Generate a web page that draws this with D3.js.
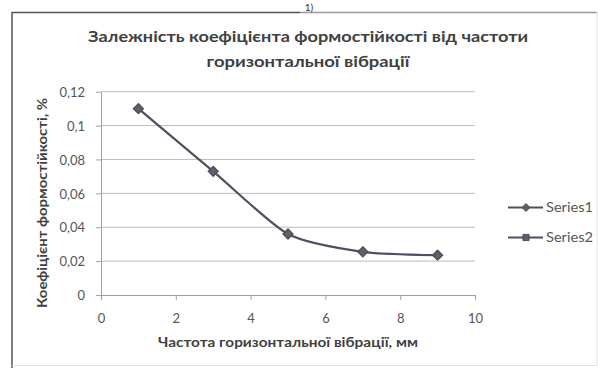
<!DOCTYPE html>
<html>
<head>
<meta charset="utf-8">
<script src="https://cdn.jsdelivr.net/npm/d3@7"></script>
<style>
  html, body { margin: 0; padding: 0; background: #fff; }
  svg { display: block; font-family: Lato, "Open Sans", "DejaVu Sans", sans-serif; }
</style>
</head>
<body>
<svg id="chart" width="598" height="368"></svg>
<script>
// Vibration frequency (x) and shape-stability coefficient (y)
const frequency = [1, 3, 5, 7, 9];
const series1 = [0.11, 0.073, 0.036, 0.0255, 0.0235];
const series2 = [];
const xTicks = [0, 2, 4, 6, 8, 10];
const yTicks = [0, 0.02, 0.04, 0.06, 0.08, 0.1, 0.12];
const titleLines = ["Залежність коефіцієнта формостійкості від частоти", "горизонтальної вібрації"];
const xTitle = "Частота горизонтальної вібрації, мм";
const yTitle = "Коефіцієнт формостійкості, %";
const seriesNames = ["Series1", "Series2"];

const svg = d3.select("#chart");
const plot = { left: 101, right: 475, top: 91.7, bottom: 295 };

const x = d3.scaleLinear().domain([0, 10]).range([plot.left, plot.right]);
const y = d3.scaleLinear().domain([0, 0.12]).range([plot.bottom, plot.top]);
const fmt = d => d === 0 ? "0" : String(d).replace(".", ",");
const textColor = "#404040";

// outer frame
svg.append("path")
  .attr("d", "M12,368 L12,12.5 L300,12.5")
  .attr("fill", "none").attr("stroke", "#555").attr("stroke-width", 1.5);
svg.append("path")
  .attr("d", "M300,12.5 L597,12.5")
  .attr("fill", "none").attr("stroke", "#999").attr("stroke-width", 1.3);
svg.append("path")
  .attr("d", "M12,365.5 L597,365.5 M597,12 L597,366")
  .attr("fill", "none").attr("stroke", "#e2e2e2").attr("stroke-width", 1);
svg.append("text").attr("x", 309).attr("y", 10.5).attr("text-anchor", "middle")
  .attr("font-size", 10).attr("fill", "#333").text("1)");

// title
const titleWidths = [440, 203];
svg.append("g").selectAll("text").data(titleLines).join("text")
  .attr("x", 308).attr("y", (d, i) => 42 + i * 25)
  .attr("text-anchor", "middle").attr("font-size", 16).attr("font-weight", 700)
  .attr("textLength", (d, i) => titleWidths[i]).attr("lengthAdjust", "spacingAndGlyphs")
  .attr("fill", textColor).text(d => d);

// horizontal gridlines
svg.append("g").selectAll("line").data(yTicks.filter(d => d > 0)).join("line")
  .attr("x1", plot.left).attr("x2", plot.right)
  .attr("y1", d => y(d)).attr("y2", d => y(d))
  .attr("stroke", "#bdbdbd").attr("stroke-width", 1);

// axes
const yAxis = svg.append("g").attr("transform", `translate(${plot.left},0)`)
  .call(d3.axisLeft(y).tickValues(yTicks).tickFormat(fmt).tickSizeInner(5).tickSizeOuter(0).tickPadding(11));
const xAxis = svg.append("g").attr("transform", `translate(0,${plot.bottom})`)
  .call(d3.axisBottom(x).tickValues(xTicks).tickFormat(fmt).tickSizeInner(5).tickSizeOuter(0).tickPadding(14));
[yAxis, xAxis].forEach(a => {
  a.select(".domain").attr("stroke", "#a0a0a0");
  a.selectAll(".tick line").attr("stroke", "#a0a0a0");
  a.selectAll(".tick text").attr("font-size", 13).attr("fill", "#555")
    .attr("font-family", "Lato, 'Open Sans', sans-serif");
});
yAxis.selectAll(".tick text").attr("dy", "0.36em");

// axis titles
svg.append("text").attr("x", 288).attr("y", 347).attr("text-anchor", "middle")
  .attr("font-size", 13).attr("font-weight", 700).attr("fill", textColor)
  .attr("textLength", 260).attr("lengthAdjust", "spacingAndGlyphs").text(xTitle);
svg.append("text").attr("transform", "translate(46.5,203) rotate(-90)").attr("text-anchor", "middle")
  .attr("font-size", 13).attr("font-weight", 700).attr("fill", textColor)
  .attr("textLength", 210).attr("lengthAdjust", "spacingAndGlyphs").text(yTitle);

// series 1: smoothed line with diamond markers
const pts = frequency.map((f, i) => [f, series1[i]]);
const line = d3.line().x(d => x(d[0])).y(d => y(d[1])).curve(d3.curveCardinal.tension(0.3));
const lineColor = "#4c5060";
svg.append("path").datum(pts).attr("d", line)
  .attr("fill", "none").attr("stroke", lineColor).attr("stroke-width", 2.2);
const diamond = d3.symbol().type(d3.symbolDiamond2).size(62);
svg.append("g").selectAll("path").data(pts).join("path")
  .attr("transform", d => `translate(${x(d[0])},${y(d[1])})`)
  .attr("d", diamond).attr("fill", "#5d6069").attr("stroke", "#4d5058").attr("stroke-width", 1.4);

// series 2 (no points)
const pts2 = series2.map((v, i) => [frequency[i], v]);
svg.append("path").datum(pts2).attr("d", pts2.length ? line : null)
  .attr("fill", "none").attr("stroke", lineColor).attr("stroke-width", 2);

// legend
const legend = svg.append("g").selectAll("g").data(seriesNames).join("g")
  .attr("transform", (d, i) => `translate(508,${207.5 + i * 30})`);
legend.append("line").attr("x1", 0).attr("x2", 35).attr("y1", 0).attr("y2", 0)
  .attr("stroke", lineColor).attr("stroke-width", 2.2);
legend.append("path").attr("transform", "translate(18,0)")
  .attr("d", (d, i) => d3.symbol().type(i === 0 ? d3.symbolDiamond2 : d3.symbolSquare2).size(i === 0 ? 40 : 48)())
  .attr("fill", "#5d6069").attr("stroke", "#4d5058").attr("stroke-width", 1);
legend.append("text").attr("x", 38).attr("y", 4.5).attr("font-size", 13).attr("fill", "#555")
  .attr("textLength", 47).attr("lengthAdjust", "spacingAndGlyphs").text(d => d);
</script>
</body>
</html>
